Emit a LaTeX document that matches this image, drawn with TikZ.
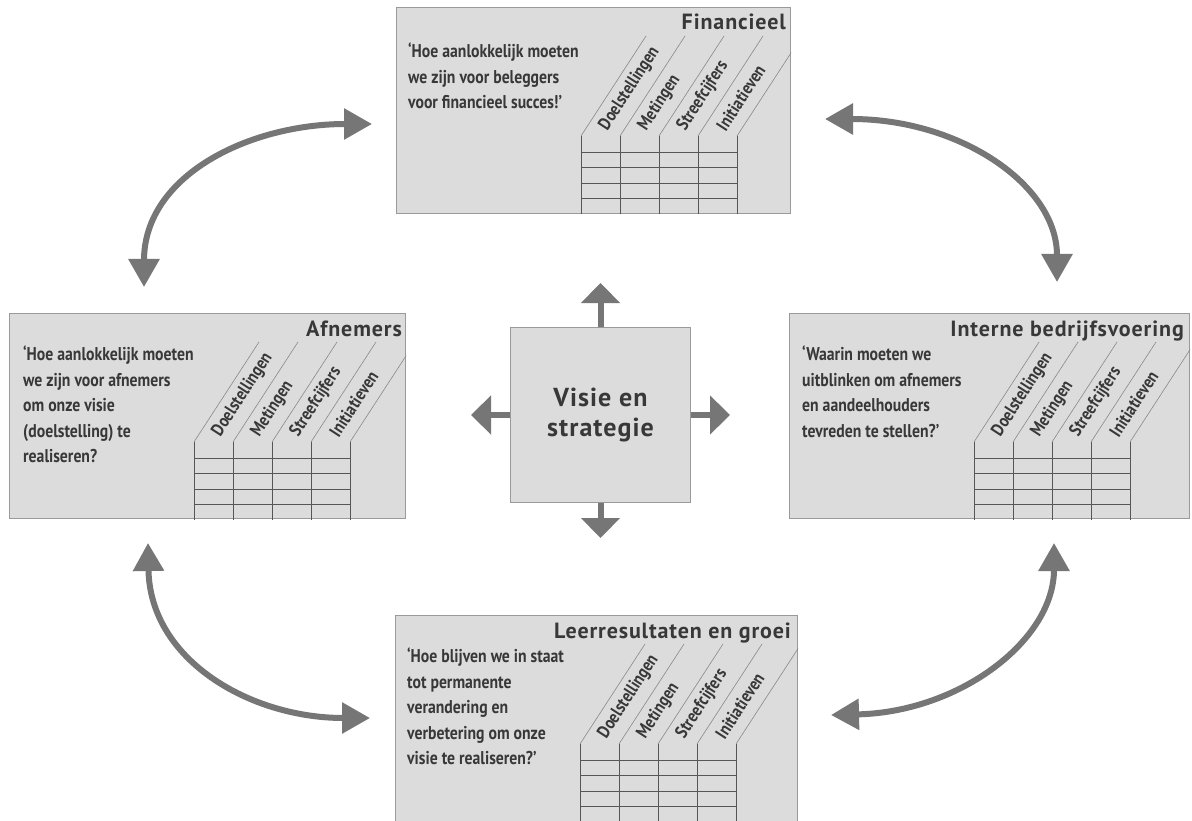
\documentclass[tikz,border=0pt]{standalone}
\usepackage{fontspec}
\setmainfont{PT Sans}
\newfontfamily\smal{PT Sans}[FakeStretch=0.85]
\newfontfamily\breed{PT Sans}[LetterSpace=4]
\usetikzlibrary{arrows.meta,calc}

\definecolor{paneel}{HTML}{DCDCDC}
\definecolor{rand}{HTML}{9A9A9A}
\definecolor{inkt}{HTML}{383838}
\definecolor{pijl}{HTML}{767676}

\tikzset{
  panel/.style={draw=rand, line width=1pt, fill=paneel, anchor=north west, inner sep=0pt},
  kop/.style={font=\breed\bfseries\fontsize{22}{24}\selectfont, text=inkt, anchor=north east, inner sep=0pt},
  vraag/.style={font=\smal\bfseries\fontsize{18.5}{25.5}\selectfont, text=inkt, anchor=north west, align=left, inner sep=0pt},
  kolom/.style={font=\smal\bfseries\fontsize{18}{18}\selectfont, text=inkt, rotate=57, anchor=west, inner sep=0pt},
  raster/.style={draw=inkt!85, line width=0.8pt},
  schuin/.style={draw=inkt!60, line width=0.6pt},
  boog/.style={draw=pijl, line width=6pt, {Triangle[length=28pt,width=30pt]}-{Triangle[length=28pt,width=30pt]}},
  straal/.style={draw=pijl, line width=6pt, -{Triangle[length=20pt,width=38pt]}},
  kern/.style={font=\breed\bfseries\fontsize{26}{30}\selectfont, text=inkt, align=center}
}

% grid with slanted column heads inside a panel
\newcommand\bsctabel[1]{%
  \begin{scope}
    \clip (#1.north west) rectangle (#1.south east);
    \path (#1.north west) ++(185,129) coordinate (#1-k);
    \foreach \i in {0,...,4} {
      \draw[raster] ($(#1-k)+(39*\i,0)$) -- ++(0,120);
      \draw[schuin] ($(#1-k)+(39*\i,0)$) -- ++(65,-100);
    }
    \foreach \d in {16,31,47,62} \draw[raster] ($(#1-k)+(0,\d)$) -- ++(156,0);
    \node[kolom] at ($(#1-k)+(22.5,-7)$) {Doelstellingen};
    \node[kolom] at ($(#1-k)+(61.5,-7)$) {Metingen};
    \node[kolom] at ($(#1-k)+(100.5,-7)$) {Streefcijfers};
    \node[kolom] at ($(#1-k)+(139.5,-7)$) {Initiatieven};
  \end{scope}}

\begin{document}
\begin{tikzpicture}[x=1pt,y=-1pt]
  \useasboundingbox (0,0) rectangle (1192,821);
  \fill[white] (0,0) rectangle (1192,821);

  % the four perspective panels and the centre
  \node[panel, minimum width=394pt, minimum height=206pt] (fin) at (396,7) {};
  \node[panel, minimum width=396pt, minimum height=205pt] (afn) at (9,313) {};
  \node[panel, minimum width=400pt, minimum height=205pt] (int) at (789,313) {};
  \node[panel, minimum width=402pt, minimum height=220pt] (leer) at (395,615) {};
  \node[panel, minimum width=180pt, minimum height=175pt] (mid) at (510,327) {};

  % titles
  \node[kop] (finT) at ($(fin.north west)+(390,7)$) {Financieel};
  \node[kop] (afnT) at ($(afn.north west)+(393,8)$) {Afnemers};
  \node[kop] (intT) at ($(int.north west)+(395,8)$) {Interne bedrijfsvoering};
  \node[kop] (leerT) at ($(leer.north west)+(396,8)$) {Leerresultaten en groei};

  % questions
  \node[vraag] (finQ) at ($(fin.north west)+(12,36)$) {‘Hoe aanlokkelijk moeten\\we zijn voor beleggers\\voor financieel succes!’};
  \node[vraag] (afnQ) at ($(afn.north west)+(14,33)$) {‘Hoe aanlokkelijk moeten\\we zijn voor afnemers\\om onze visie\\(doelstelling) te\\realiseren?};
  \node[vraag] (intQ) at ($(int.north west)+(13,33)$) {‘Waarin moeten we\\uitblinken om afnemers\\en aandeelhouders\\tevreden te stellen?’};
  \node[vraag] (leerQ) at ($(leer.north west)+(12,33)$) {‘Hoe blijven we in staat\\tot permanente\\verandering en\\verbetering om onze\\visie te realiseren?’};

  % tables
  \bsctabel{fin}
  \bsctabel{afn}
  \bsctabel{int}
  \bsctabel{leer}

  % centre
  \node[kern] (midT) at (mid.center) {Visie en\\strategie};
  \coordinate (pN) at ($(mid.north)+(0,-44)$);
  \coordinate (pS) at ($(mid.south)+(0,35)$);
  \coordinate (pE) at ($(mid.east)+(39,0)$);
  \coordinate (pW) at ($(mid.west)+(-39,0)$);
  \draw[straal] (mid.north) -- (pN);
  \draw[straal] (mid.south) -- (pS);
  \draw[straal] (mid.east) -- (pE);
  \draw[straal] (mid.west) -- (pW);

  % curved double arrows between the panels
  \coordinate (a1) at (144,287); \coordinate (b1) at (372,124);
  \coordinate (a2) at (825,119); \coordinate (b2) at (1057,282);
  \coordinate (a3) at (148,543); \coordinate (b3) at (370,718);
  \coordinate (a4) at (831,715); \coordinate (b4) at (1054,543);
  \draw[boog] (a1) .. controls (144,175) and (250,124) .. (b1);
  \draw[boog] (a2) .. controls (960,119) and (1057,185) .. (b2);
  \draw[boog] (a3) .. controls (150,660) and (250,718) .. (b3);
  \draw[boog] (a4) .. controls (960,712) and (1054,640) .. (b4);
\end{tikzpicture}
\end{document}
